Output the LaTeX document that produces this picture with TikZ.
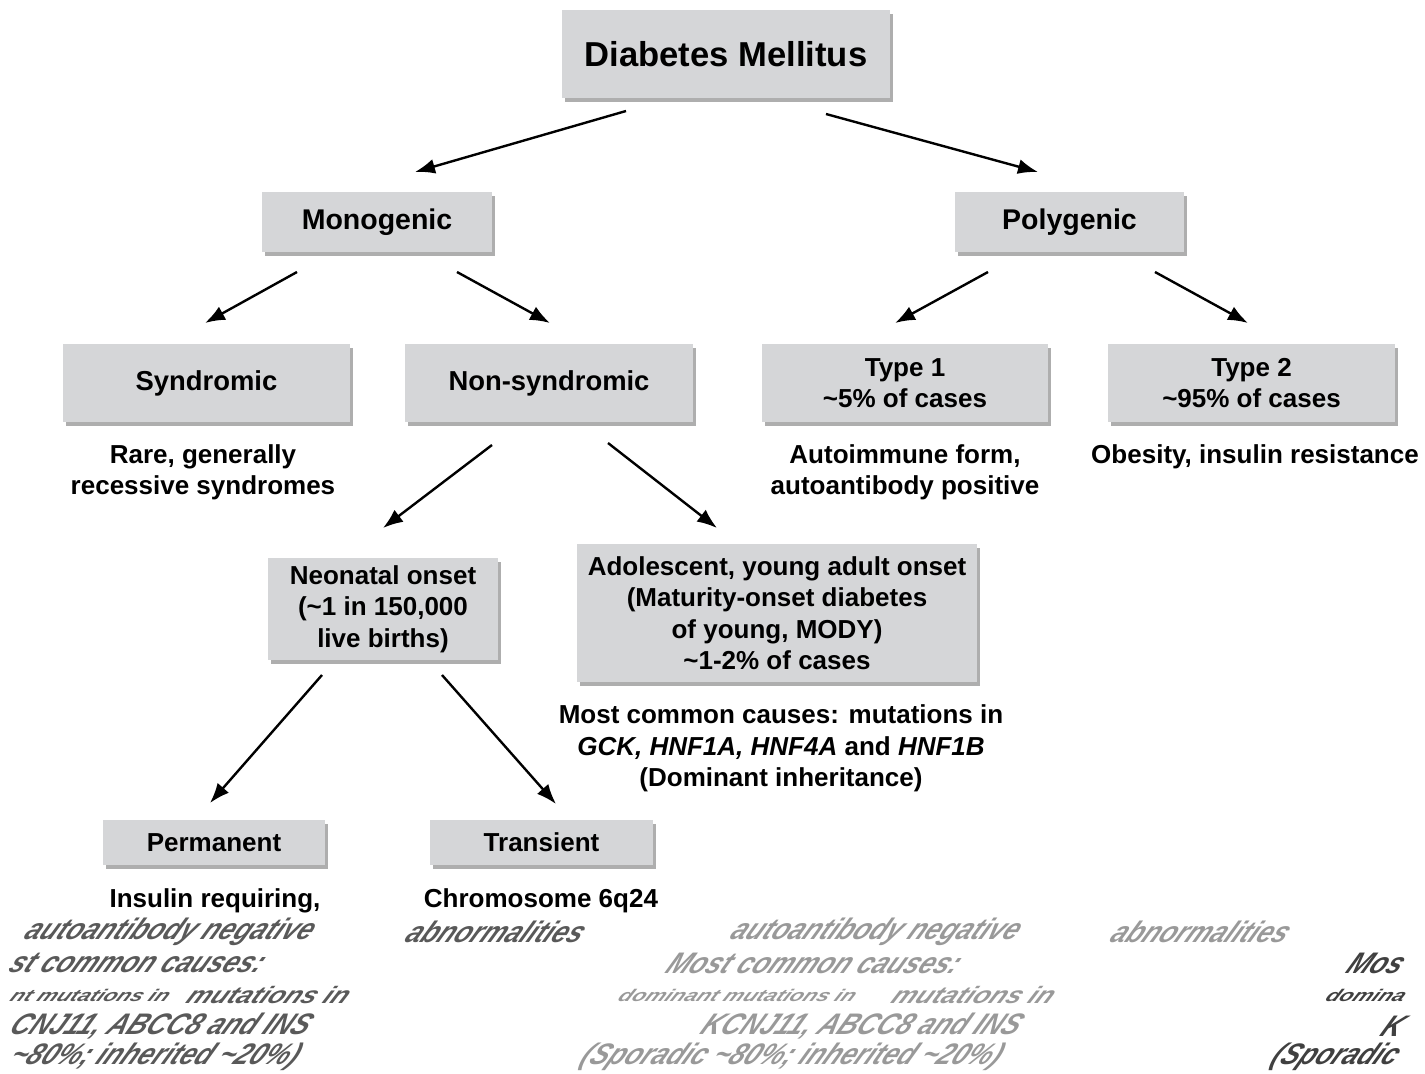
\documentclass[tikz,border=0pt]{standalone}
\usepackage{fontspec}
\setmainfont{Liberation Sans}
\usetikzlibrary{shadows,arrows.meta}
\definecolor{boxgray}{HTML}{D5D6D8}
\tikzset{
  box/.style={fill=boxgray, draw=none, align=center, inner sep=0pt,
    drop shadow={shadow xshift=3pt, shadow yshift=-4pt, opacity=0.45, fill=black!70},
    font=\bfseries\fontsize{26}{31.5}\selectfont},
  desc/.style={align=center, inner sep=0pt, font=\bfseries\fontsize{26}{31.5}\selectfont},
  arr/.style={-{Latex[length=20pt,width=15pt]}, line width=2.4pt},
  ghost/.style={inner sep=0pt, font=\bfseries\itshape\fontsize{27}{30}\selectfont, xslant=0.55, yscale=1.1},
  ghostsmall/.style={ghost, yscale=0.7, font=\bfseries\itshape\fontsize{22}{26}\selectfont},
}
\begin{document}
\begin{tikzpicture}[x=1pt,y=-1pt]
\useasboundingbox (0,0) rectangle (1425,1074);
% boxes
\node[box, minimum width=328, minimum height=88, font=\bfseries\fontsize{34.6}{40}\selectfont] (dm) at (726,54) {Diabetes Mellitus};
\node[box, minimum width=230, minimum height=60, font=\bfseries\fontsize{28.5}{34}\selectfont] (mono) at (377,222) {Monogenic};
\node[box, minimum width=229, minimum height=60, font=\bfseries\fontsize{28.5}{34}\selectfont] (poly) at (1069.5,222) {Polygenic};
\node[box, minimum width=287, minimum height=78, font=\bfseries\fontsize{27.4}{33}\selectfont] (synd) at (206.5,383) {Syndromic};
\node[box, minimum width=288, minimum height=78, font=\bfseries\fontsize{27.4}{33}\selectfont] (nons) at (549,383) {Non-syndromic};
\node[box, minimum width=286, minimum height=78] (t1) at (905,383) {Type 1\\\textasciitilde5\% of cases};
\node[box, minimum width=287, minimum height=78] (t2) at (1251.5,383) {Type 2\\\textasciitilde95\% of cases};
\node[box, minimum width=230, minimum height=102] (neo) at (383,609) {Neonatal onset\\(\textasciitilde1 in 150,000\\live births)};
\node[box, minimum width=400, minimum height=138] (ado) at (777,613) {Adolescent, young adult onset\\(Maturity-onset diabetes\\of young, MODY)\\\textasciitilde1-2\% of cases};
\node[box, minimum width=222, minimum height=45] (perm) at (214,842.5) {Permanent};
\node[box, minimum width=223, minimum height=45] (trans) at (541.5,842.5) {Transient};
% descriptions
\node[desc] (rare) at (203,472.5) {Rare, generally\\recessive syndromes};
\node[desc] (autoi) at (905,472.5) {Autoimmune form,\\autoantibody positive};
\node[desc] (obes) at (1255,457) {Obesity, insulin resistance};
\node[desc] (mody) at (781,748.5) {Most common causes: mutations in\\\textit{GCK, HNF1A, HNF4A} and \textit{HNF1B}\\(Dominant inheritance)};
\node[desc] (insr) at (215,901) {Insulin requiring,};
\node[desc] (chrom) at (541,901) {Chromosome 6q24};
% garbled (ghost) text, left copy
\node[ghost, text=black!65] (gl1) at (170,932) {autoantibody negative};
\node[ghost, text=black!65, anchor=west] (gl2) at (12,963) {st common causes:};
\node[ghostsmall, text=black!65, anchor=west] (gl3a) at (12,995) {nt mutations in};
\node[ghost, text=black!65, anchor=east, yscale=0.8] (gl3b) at (350,995) {mutations in};
\node[ghost, text=black!65, anchor=west] (gl4) at (12,1026) {CNJ11, ABCC8 and INS};
\node[ghost, text=black!65, anchor=west] (gl5) at (12,1057) {\textasciitilde80\%; inherited \textasciitilde20\%)};
\node[ghost, text=black!65] (gl6) at (497,932) {abnormalities};
% middle copy
\node[ghost, text=black!40] (gm1) at (876,932) {autoantibody negative};
\node[ghost, text=black!40] (gm2) at (815,963) {Most common causes:};
\node[ghostsmall, text=black!40, anchor=west] (gm3a) at (620,995) {dominant mutations in};
\node[ghost, text=black!40, anchor=east, yscale=0.8] (gm3b) at (1055,995) {mutations in};
\node[ghost, text=black!40] (gm4) at (862,1026) {KCNJ11, ABCC8 and INS};
\node[ghost, text=black!40] (gm5) at (792,1057) {(Sporadic \textasciitilde80\%; inherited \textasciitilde20\%)};
\node[ghost, text=black!40] (gm6) at (1202,932) {abnormalities};
% right copy
\node[ghost, text=black!75, anchor=east] (gr2) at (1404,963) {Mos};
\node[ghostsmall, text=black!75, anchor=east] (gr3) at (1406,995) {domina};
\node[ghost, text=black!75, anchor=east] (gr4) at (1404,1026) {K};
\node[ghost, text=black!75, anchor=east] (gr5) at (1398,1057) {(Sporadic};
% arrow end points
\coordinate (a1s) at (626,111); \coordinate (a1e) at (415,172);
\coordinate (a2s) at (826,114); \coordinate (a2e) at (1038,172);
\coordinate (a3s) at (297,272); \coordinate (a3e) at (205,323);
\coordinate (a4s) at (457,272); \coordinate (a4e) at (550,323);
\coordinate (a5s) at (988,272); \coordinate (a5e) at (895,323);
\coordinate (a6s) at (1155,272); \coordinate (a6e) at (1248,323);
\coordinate (a7s) at (492,445); \coordinate (a7e) at (383,528);
\coordinate (a8s) at (608,443); \coordinate (a8e) at (717,528);
\coordinate (a9s) at (322,675); \coordinate (a9e) at (210,803);
\coordinate (a10s) at (442,675); \coordinate (a10e) at (556,804);
\foreach \i in {1,...,10} { \draw[arr] (a\i s) -- (a\i e); }
\end{tikzpicture}
\end{document}
